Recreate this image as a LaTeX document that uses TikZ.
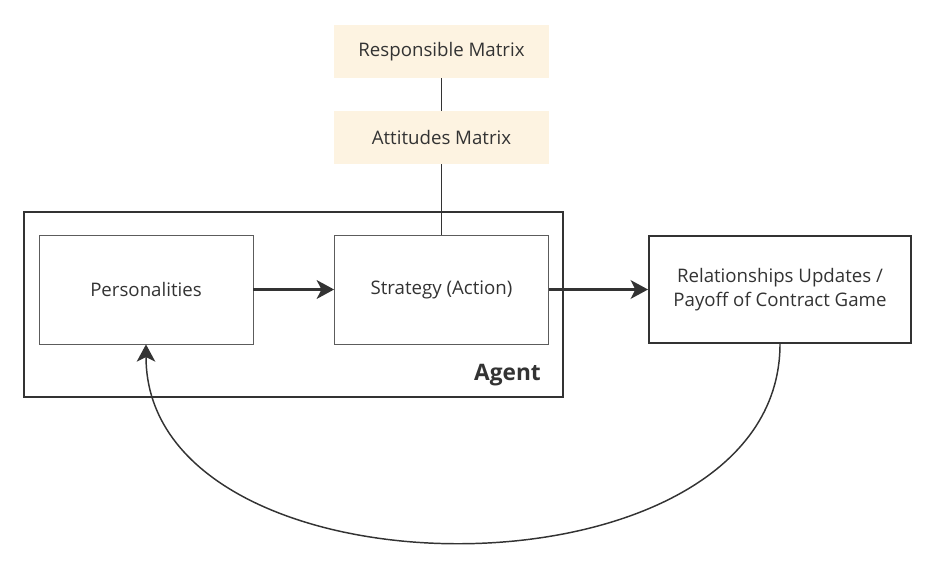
\documentclass[tikz,border=0pt]{standalone}
\usepackage{fontspec}
\setmainfont{Open Sans}
\usepackage{tikz}
\usepackage{xcolor}
\usetikzlibrary{arrows.meta}
\definecolor{ink}{HTML}{333333}
\definecolor{cream}{HTML}{FDF3E1}
\tikzset{
    matrix-box/.style = {fill=cream, rectangle, inner sep=0pt, minimum width=161.25pt, minimum height=39.75pt, text=ink, font=\fontsize{14}{17}\selectfont},
    inner-box/.style = {draw=ink!80, line width=0.6pt, rectangle, inner sep=0pt, minimum width=160.5pt, minimum height=81.75pt, text=ink, font=\fontsize{14}{17}\selectfont},
    outer-box/.style = {draw=ink, line width=1.5pt, rectangle, inner sep=0pt},
    link/.style = {draw=ink, line width=0.6pt},
    flow/.style = {draw=ink, line width=1.8pt, -{Stealth[length=13pt, width=14pt, inset=3.5pt]}},
}

\begin{document}
\begin{tikzpicture}[x=0.75pt, y=-0.75pt]
\useasboundingbox (0,0) rectangle (946,563);
\node [matrix-box] (resp-matrix) at (441.5,51.5) {Responsible Matrix};
\node [matrix-box] (att-matrix) at (441.5,137.5) {Attitudes Matrix};
\node [outer-box, minimum width=404.25pt, minimum height=138.75pt] (agent) at (293.5,304.5) {};
\node [inner-box] (personalities) at (146,289.5) {Personalities};
\node [inner-box] (strategy) at (441.5,289.5) {Strategy (Action)};
\node [outer-box, minimum width=196.5pt, minimum height=80.25pt, text=ink, align=center, font=\fontsize{14}{19.5}\selectfont] (relationships) at (780,289.5) {\raisebox{-2pt}{Relationships Updates /}\\Payoff of Contract Game};
\node [anchor=base east, text=ink, font=\fontsize{17}{20}\selectfont\bfseries, inner sep=0pt] (agent-title) at (541,380) {Agent};

\draw [link] (resp-matrix) -- (att-matrix);
\draw [link] (att-matrix) -- (strategy);
\draw [flow] (personalities) -- (strategy);
\draw [flow] (strategy) -- (relationships);
\draw [flow, line width=1.1pt] (relationships.south) .. controls +(0,265) and +(0,263) .. (personalities.south);
\end{tikzpicture}
\end{document}
